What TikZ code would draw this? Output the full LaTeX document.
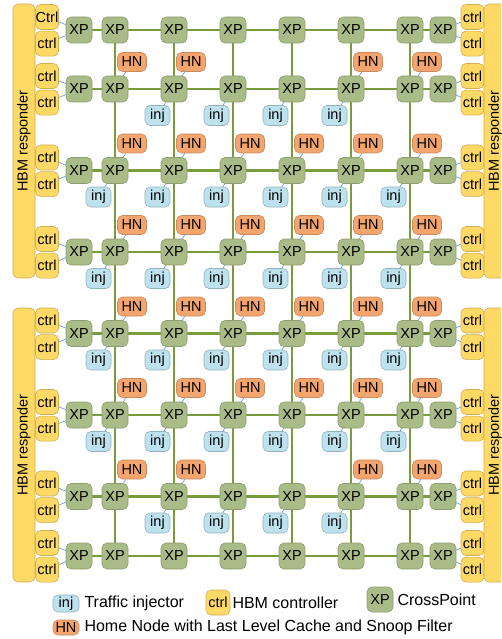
\documentclass[tikz,border=0pt]{standalone}
\usepackage{fontspec}
\setmainfont{Liberation Sans}
\usetikzlibrary{positioning,backgrounds}
\newcommand{\xpfont}{\fontsize{14.5}{16}\selectfont}
\newcommand{\legfont}{\fontsize{16}{18}\selectfont}
\definecolor{xpfill}{HTML}{A9BB87}
\definecolor{xpdraw}{HTML}{8E9E70}
\definecolor{meshgreen}{HTML}{7A9A3E}
\definecolor{hnfill}{HTML}{F4A56E}
\definecolor{hndraw}{HTML}{C88A5E}
\definecolor{injfill}{HTML}{BDE2EE}
\definecolor{injdraw}{HTML}{93B2BC}
\definecolor{ctrlfill}{HTML}{FFD966}
\definecolor{ctrldraw}{HTML}{CDAE52}
\definecolor{linkblue}{HTML}{6B9FE0}
\tikzset{
  basebox/.style={rectangle,line width=0.6pt,rounded corners=5pt,inner sep=0pt,
    align=center,font=\xpfont},
  xpbox/.style={basebox,draw=xpdraw,fill=xpfill,minimum width=26pt,minimum height=26pt},
  hnbox/.style={basebox,draw=hndraw,fill=hnfill,minimum width=29pt,minimum height=19pt},
  injbox/.style={basebox,draw=injdraw,fill=injfill,minimum width=25pt,minimum height=20pt},
  ctrlbox/.style={basebox,draw=ctrldraw,fill=ctrlfill,minimum width=23pt,minimum height=25pt},
  hbmbar/.style={basebox,draw=ctrldraw,fill=ctrlfill,rotate=90,
    minimum width=274pt,minimum height=22pt},
  legtext/.style={inner sep=0pt,font=\legfont},
  meshline/.style={draw=meshgreen,line width=2.4pt},
  lnk/.style={draw=linkblue,line width=0.7pt},
}

\begin{document}
\begin{tikzpicture}[x=1pt,y=-1pt]
  \useasboundingbox (0,0) rectangle (501,639);
  \clip (0,0) rectangle (501,639);
  % crosspoints, 8 columns x 8 rows
  \foreach \y [count=\r] in {30,89,170.5,252,333.5,415,496.5,556}
    \foreach \x [count=\c] in {79,115,174,233,292,351,410,443}
      \node[xpbox] (xp-\c-\r) at (\x,\y) {XP};
  % mesh links behind the crosspoints
  \begin{scope}[on background layer]
    \foreach \r in {1,...,8}
      \draw[meshline] (xp-1-\r) -- (xp-8-\r);
    \foreach \c in {2,...,7}
      \draw[meshline] (xp-\c-1) -- (xp-\c-8);
  \end{scope}
  % home nodes (above right) and traffic injectors (below left)
  \foreach \r/\cols in {2/{2,3,6,7},3/{2,...,7},4/{2,...,7},5/{2,...,7},6/{2,...,7},7/{2,3,6,7}}
    \foreach \c in \cols {
      \node[hnbox] (hn-\c-\r) at ([xshift=17pt,yshift=27pt]xp-\c-\r) {HN};
      \draw[lnk] (hn-\c-\r) -- (xp-\c-\r);
    }
  \foreach \r/\cols in {2/{3,...,6},3/{2,...,7},4/{2,...,7},5/{2,...,7},6/{2,...,7},7/{3,...,6}}
    \foreach \c in \cols {
      \node[injbox] (inj-\c-\r) at ([xshift=-16.5pt,yshift=-26.5pt]xp-\c-\r) {inj};
      \draw[lnk] (inj-\c-\r) -- (xp-\c-\r);
    }
  % HBM controllers, two per edge crosspoint
  \foreach \y [count=\r] in {30,89,170.5,252,333.5,415,496.5,556} {
    \node[ctrlbox] (cl-\r-a) at (47,\y-13) {\ifnum\r=1 C\else c\fi trl};
    \node[ctrlbox,below=1pt of cl-\r-a] (cl-\r-b) {ctrl};
    \node[ctrlbox] (cr-\r-a) at (472.5,\y-13) {ctrl};
    \node[ctrlbox,below=1pt of cr-\r-a] (cr-\r-b) {ctrl};
    \draw[lnk] (cl-\r-a) -- (xp-1-\r);
    \draw[lnk] (cl-\r-b) -- (xp-1-\r);
    \draw[lnk] (cr-\r-a) -- (xp-8-\r);
    \draw[lnk] (cr-\r-b) -- (xp-8-\r);
  }
  % HBM responders
  \node[hbmbar] (hbm-l1) at (24,141) {HBM responder};
  \node[hbmbar] (hbm-l2) at (24,445) {HBM responder};
  \node[hbmbar] (hbm-r1) at (495,141) {HBM responder};
  \node[hbmbar] (hbm-r2) at (495,445) {HBM responder};
  % legend
  \node[injbox,minimum width=26pt,minimum height=17pt] (lg-inj) at (66,603.5) {inj};
  \node[legtext,right=5pt of lg-inj] (lg-inj-txt) {Traffic injector};
  \node[ctrlbox,minimum width=24pt] (lg-ctrl) at (218,602.5) {ctrl};
  \node[legtext,right=2pt of lg-ctrl] (lg-ctrl-txt) {HBM controller};
  \node[xpbox,minimum height=25pt] (lg-xp) at (380,599.5) {XP};
  \node[legtext,right=4pt of lg-xp] (lg-xp-txt) {CrossPoint};
  \node[hnbox,minimum width=26pt,minimum height=15pt] (lg-hn) at (66,627.5) {HN};
  \node[legtext,right=5pt of lg-hn] (lg-hn-txt) {Home Node with Last Level Cache and Snoop Filter};
\end{tikzpicture}
\end{document}
